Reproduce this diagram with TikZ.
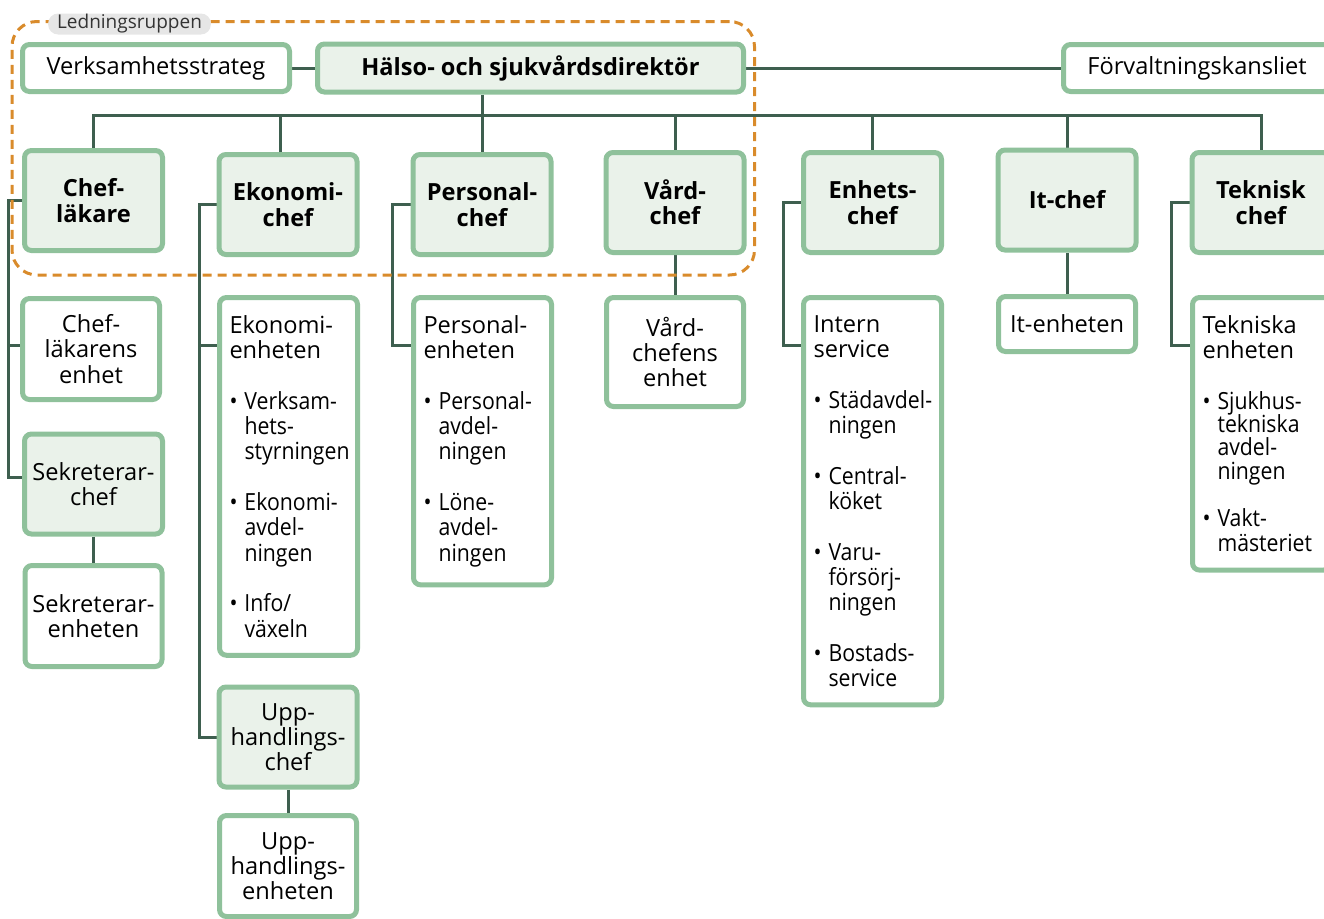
\documentclass[tikz,border=0pt]{standalone}
\usepackage{fontspec}
\setmainfont{Open Sans}
\newfontfamily\punktfont[FakeStretch=0.9]{Open Sans}
\usepackage{tikz}
\usetikzlibrary{positioning,backgrounds,fit,calc}
\definecolor{randgron}{HTML}{8FC19B}
\definecolor{fyllgron}{HTML}{EAF2EA}
\definecolor{linjegron}{HTML}{3E5F4F}
\definecolor{ledorange}{HTML}{D98B2B}
\definecolor{pillgra}{HTML}{E6E6E6}
\newcommand{\pkt}{\makebox[15pt][l]{•}}
\newcommand{\ind}{\hspace*{15pt}}
\newcommand{\textstorlek}{\fontsize{23.6}{25.3}\selectfont}
\tikzset{
  ruta/.style={draw=randgron,line width=5pt,rounded corners=7pt,fill=white,
    inner sep=4pt,align=center,font=\textstorlek,
    execute at begin node={\hyphenpenalty=10000 \exhyphenpenalty=10000 }},
  chefruta/.style={ruta,fill=fyllgron,minimum width=138pt,minimum height=100pt,
    font=\textstorlek\bfseries},
  enhruta/.style={ruta,minimum width=137pt,minimum height=101pt},
  listruta/.style={ruta,anchor=north west,align=left,text width=118pt,
    inner xsep=10pt,inner ysep=18pt},
  conn/.style={draw=linjegron,line width=3pt},
  ledram/.style={draw=ledorange,line width=3pt,dash pattern=on 9pt off 6pt,
    rounded corners=25pt},
  ledtext/.style={fill=pillgra,rounded corners=10pt,inner xsep=9pt,inner ysep=1pt,
    text=black!80,font=\fontsize{19}{21}\selectfont},
}
\begin{document}
\begin{tikzpicture}[x=1pt,y=-1pt]
\useasboundingbox (0,0) rectangle (1324,918);
\clip (0,0) rectangle (1324,918);
% ledning
\node[ruta,minimum width=267pt,minimum height=47pt] (vs) at (156,68) {Verksamhetsstrateg};
\node[ruta,fill=fyllgron,minimum width=426pt,minimum height=48pt,
  font=\textstorlek\bfseries] (dir) at (530.5,68) {Hälso- och sjukvårdsdirektör};
\node[ruta,minimum width=267pt,minimum height=47pt] (fk) at (1197,68) {Förvaltningskansliet};
% chefer
\node[chefruta] (chl) at (93.5,200.5) {Chef-\\läkare};
\node[chefruta] (ekc) at (288,204.5) {Ekonomi-\\chef};
\node[chefruta] (pc) at (482,204.5) {Personal-\\chef};
\node[chefruta] (vc) at (675,202.5) {Vård-\\chef};
\node[chefruta] (ec) at (872.5,202.5) {Enhets-\\chef};
\node[chefruta] (itc) at (1067,200) {It-chef};
\node[chefruta] (tc) at (1261,202.5) {Teknisk\\chef};
% enheter
\node[enhruta] (chle) at (91,349) {Chef-\\läkarens\\enhet};
\node[chefruta,font=\textstorlek] (sekc) at (93.5,484) {Sekreterar-\\chef};
\node[enhruta] (seke) at (93.5,616) {Sekreterar-\\enheten};
\node[listruta] (eke) at (217,295) {Ekonomi-\\enheten\\[25.3pt]\punktfont
  \pkt Verksam-\\\ind hets-\\\ind styrningen\\[25.3pt]
  \pkt Ekonomi-\\\ind avdel-\\\ind ningen\\[25.3pt]
  \pkt Info/\\\ind växeln};
\node[chefruta,font=\textstorlek] (uppc) at (288,737) {Upp-\\handlings-\\chef};
\node[enhruta] (uppe) at (288,866) {Upp-\\handlings-\\enheten};
\node[listruta] (pe) at (411,295) {Personal-\\enheten\\[25.3pt]\punktfont
  \pkt Personal-\\\ind avdel-\\\ind ningen\\[25.3pt]
  \pkt Löne-\\\ind avdel-\\\ind ningen};
\node[enhruta,minimum height=109pt] (vce) at (675,352) {Vård-\\chefens\\enhet};
\node[listruta] (ise) at (801,295) {Intern\\service\\[25.3pt]\punktfont
  \pkt Städavdel-\\\ind ningen\\[25.3pt]
  \pkt Central-\\\ind köket\\[25.3pt]
  \pkt Varu-\\\ind försörj-\\\ind ningen\\[25.3pt]
  \pkt Bostads-\\\ind service};
\node[enhruta,minimum height=55pt] (ite) at (1067,324) {It-enheten};
\node[listruta] (te) at (1190,295) {Tekniska\\enheten\\[25.3pt]\punktfont
  \pkt Sjukhus-\\[-2pt]\ind tekniska\\[-2pt]\ind avdel-\\[-2pt]\ind ningen\\[22pt]
  \pkt Vakt-\\\ind mästeriet};
% ledningsgruppen
\node[ledram,fit=(vs)(dir)(chl)(vc),inner xsep=8pt,inner ysep=20pt] (lg) {};
\node[ledtext] (lgtxt) at ([xshift=119pt,yshift=-4pt]lg.north west) {Ledningsruppen};
% linjer
\begin{scope}[on background layer]
\coordinate (buss) at (0,115);
\draw[conn] (vs) -- (dir);
\draw[conn] (dir) -- (fk);
\draw[conn] (pc.north |- dir.south) -- (pc.north);
\draw[conn] (chl.north) -- (chl.north |- buss) -- (tc.north |- buss) -- (tc.north);
\draw[conn] ([xshift=-8pt]ekc.north) -- ([xshift=-8pt]ekc.north |- buss);
\foreach \n in {vc,ec,itc}
  \draw[conn] (\n.north) -- (\n.north |- buss);
\draw[conn] (chl.west) -- ++(-14,0) |- ([yshift=4pt]chle.west);
\draw[conn] (chl.west) -- ++(-14,0) |- ([yshift=7pt]sekc.west);
\draw[conn] (sekc) -- (seke);
\draw[conn] (ekc.west) -- ++(-17,0) |- ([yshift=-50pt]eke.north west);
\draw[conn] (ekc.west) -- ++(-17,0) |- (uppc.west);
\draw[conn] (uppc) -- (uppe);
\draw[conn] (pc.west) -- ++(-18,0) |- ([yshift=-50pt]pe.north west);
\draw[conn] (vc) -- (vce);
\draw[conn] (ec.west) -- ++(-18,0) |- ([yshift=-50pt]ise.north west);
\draw[conn] (itc) -- (ite);
\draw[conn] (tc.west) -- ++(-18,0) |- ([yshift=-50pt]te.north west);
\end{scope}
\end{tikzpicture}
\end{document}
